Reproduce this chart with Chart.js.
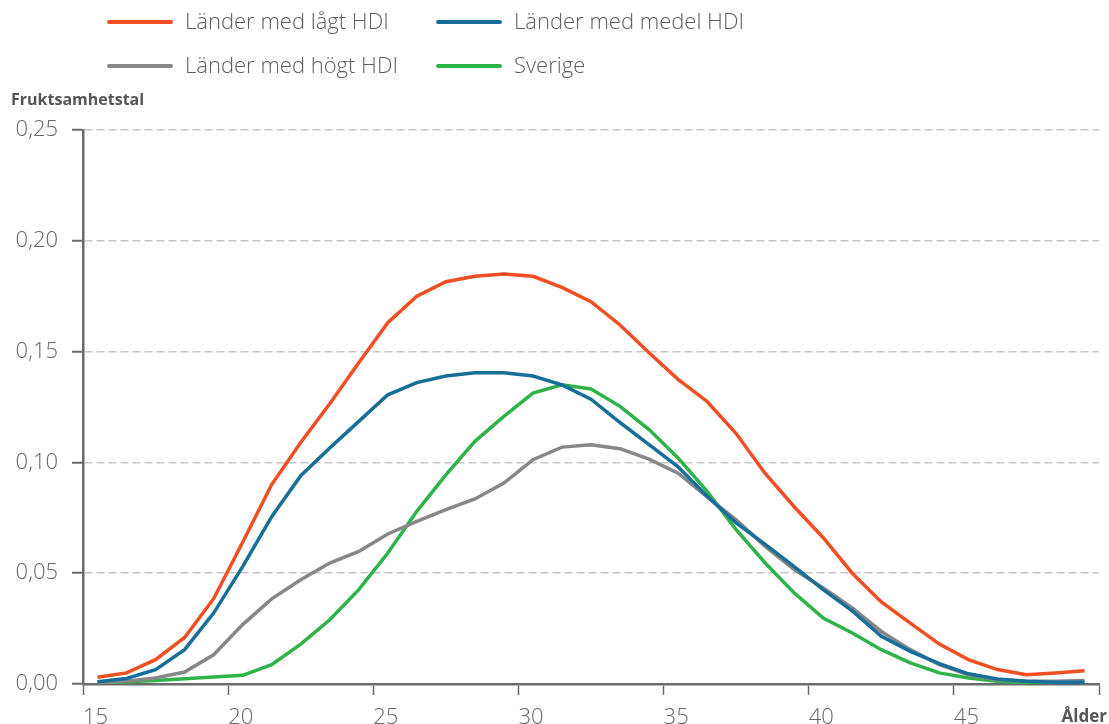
<!DOCTYPE html>
<html>
<head>
<meta charset="utf-8">
<script src="https://cdn.jsdelivr.net/npm/chart.js@4/dist/chart.umd.min.js"></script>
<style>
  html, body { margin: 0; padding: 0; background: #fff; }
  #wrap { width: 1109px; height: 724px; }
</style>
</head>
<body>
<div id="wrap"><canvas id="fertilityChart" width="1109" height="724"></canvas></div>
<script>
// Ages (mid-year of each one-year age group)
var ages = [15.5, 16.5, 17.5, 18.5, 19.5, 20.5, 21.5, 22.5, 23.5, 24.5,
            25.5, 26.5, 27.5, 28.5, 29.5, 30.5, 31.5, 32.5, 33.5, 34.5,
            35.5, 36.5, 37.5, 38.5, 39.5, 40.5, 41.5, 42.5, 43.5, 44.5,
            45.5, 46.5, 47.5, 48.5, 49.5];

var lowHdi = [0.003, 0.005, 0.011, 0.021, 0.0385, 0.064, 0.090, 0.109, 0.1265, 0.145,
              0.163, 0.175, 0.1815, 0.184, 0.185, 0.184, 0.179, 0.1725, 0.162, 0.1495,
              0.1375, 0.1275, 0.113, 0.095, 0.080, 0.066, 0.050, 0.037, 0.0275, 0.018,
              0.011, 0.0065, 0.0042, 0.005, 0.006];

var mediumHdi = [0.001, 0.0025, 0.0065, 0.0155, 0.032, 0.053, 0.0755, 0.094, 0.1065, 0.1185,
                 0.1305, 0.136, 0.139, 0.1405, 0.1405, 0.139, 0.135, 0.1285, 0.118, 0.108,
                 0.098, 0.0847, 0.0727, 0.063, 0.053, 0.0426, 0.033, 0.0215, 0.0147, 0.0092,
                 0.0046, 0.0023, 0.0012, 0.0008, 0.0008];

var highHdi = [0.0005, 0.0012, 0.0027, 0.0054, 0.0132, 0.0268, 0.0384, 0.047, 0.0546, 0.0598,
               0.0677, 0.0734, 0.0787, 0.0835, 0.0907, 0.1012, 0.1069, 0.108, 0.1062, 0.1015,
               0.0951, 0.0844, 0.0741, 0.0621, 0.0516, 0.0433, 0.0343, 0.0237, 0.0155, 0.0087,
               0.0042, 0.0019, 0.0012, 0.0012, 0.0016];

var sweden = [0.0, 0.001, 0.0016, 0.0024, 0.0032, 0.0039, 0.0087, 0.018, 0.029, 0.0426,
              0.0591, 0.0779, 0.0944, 0.1095, 0.1208, 0.1313, 0.135, 0.1331, 0.1253, 0.1148,
              0.102, 0.0869, 0.0696, 0.0546, 0.0411, 0.0298, 0.023, 0.0155, 0.0095, 0.005,
              0.0027, 0.0012, 0.0005, 0.0005, 0.0005];

var seriesNames = ['Länder med lågt HDI', 'Länder med medel HDI', 'Länder med högt HDI', 'Sverige'];
var seriesColors = ['#f04e23', '#166e99', '#878787', '#2db34a'];
var yTicks = [0, 0.05, 0.10, 0.15, 0.20, 0.25];
var xTicks = [15, 20, 25, 30, 35, 40, 45, 50];
var yTitle = 'Fruktsamhetstal';
var xTitle = 'Ålder';

var FONT = '"Open Sans", "Noto Sans", sans-serif';

function toPoints(values) {
  return values.map(function (v, i) { return { x: ages[i], y: v }; });
}

var seriesValues = [lowHdi, mediumHdi, highHdi, sweden];
var datasets = seriesValues.map(function (vals, i) {
  return {
    label: seriesNames[i],
    data: toPoints(vals),
    borderColor: seriesColors[i],
    backgroundColor: seriesColors[i],
    borderWidth: 3.5,
    pointRadius: 0,
    tension: 0,
    fill: false
  };
});

// legend in two columns plus axis titles, drawn straight on the canvas
var extrasPlugin = {
  id: 'extras',
  afterDraw: function (chart) {
    var ctx = chart.ctx;
    var slots = [[109, 22], [438, 22], [109, 66], [438, 66]];
    ctx.save();
    chart.data.datasets.forEach(function (ds, i) {
      var s = slots[i];
      ctx.strokeStyle = ds.borderColor;
      ctx.lineWidth = 4;
      ctx.lineCap = 'round';
      ctx.beginPath();
      ctx.moveTo(s[0], s[1]);
      ctx.lineTo(s[0] + 62, s[1]);
      ctx.stroke();
      ctx.fillStyle = '#5e5e5e';
      ctx.font = '300 22px ' + FONT;
      ctx.textAlign = 'left';
      ctx.textBaseline = 'middle';
      ctx.fillText(ds.label, s[0] + 76, s[1] + 1);
    });

    ctx.fillStyle = '#555';
    ctx.font = 'bold 16px ' + FONT;
    ctx.textAlign = 'left';
    ctx.textBaseline = 'middle';
    ctx.fillText(yTitle, 11, 100);

    var xs = chart.scales.x;
    ctx.font = 'bold 17px ' + FONT;
    ctx.textAlign = 'right';
    ctx.textBaseline = 'alphabetic';
    ctx.fillText(xTitle, xs.getPixelForValue(50) + 8, 722);
    ctx.restore();
  }
};

new Chart(document.getElementById('fertilityChart'), {
  type: 'line',
  data: { datasets: datasets },
  options: {
    responsive: false,
    animation: false,
    layout: { padding: { top: 130, right: 9, left: 0, bottom: 0 } },
    plugins: {
      legend: { display: false },
      tooltip: { enabled: false }
    },
    scales: {
      x: {
        type: 'linear',
        min: 15,
        max: 50,
        afterBuildTicks: function (scale) {
          scale.ticks = xTicks.map(function (v) { return { value: v }; });
        },
        afterFit: function (scale) { scale.height = 40; },
        grid: {
          drawOnChartArea: false,
          drawTicks: true,
          tickLength: 11,
          tickColor: '#6b6b6b',
          tickWidth: 1.5
        },
        border: { display: true, color: '#6b6b6b', width: 2.5 },
        ticks: {
          align: 'start',
          padding: 10,
          color: '#666',
          font: { family: FONT, size: 22, weight: '300' },
          autoSkip: false,
          maxRotation: 0,
          callback: function (v) { return v === 50 ? '' : String(v); }
        }
      },
      y: {
        min: 0,
        max: 0.25,
        afterBuildTicks: function (scale) {
          scale.ticks = yTicks.map(function (v) { return { value: v }; });
        },
        afterFit: function (scale) { scale.width = 83; },
        grid: {
          color: '#c8c8c8',
          lineWidth: 1.5,
          drawTicks: true,
          tickLength: 11,
          tickColor: '#6b6b6b',
          tickWidth: 2
        },
        border: { display: true, color: '#6b6b6b', width: 2.5, dash: [8, 4] },
        ticks: {
          padding: 14,
          color: '#666',
          font: { family: FONT, size: 22, weight: '300' },
          callback: function (v) { return v.toFixed(2).replace('.', ','); }
        }
      }
    }
  },
  plugins: [extrasPlugin]
});
</script>
</body>
</html>
